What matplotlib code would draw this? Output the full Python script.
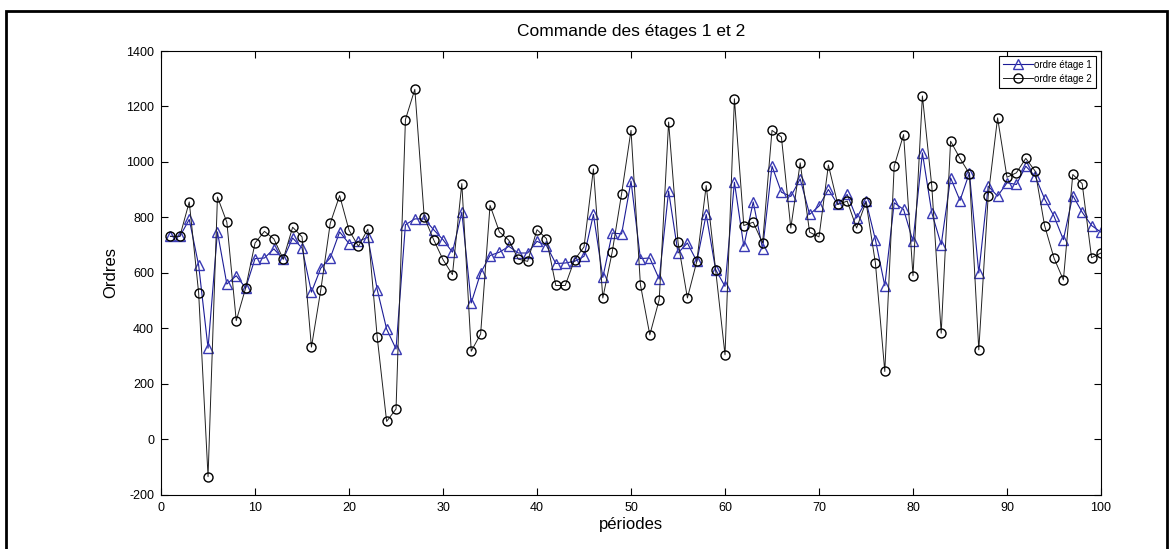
import matplotlib
matplotlib.use("Agg")
import matplotlib.pyplot as plt
from matplotlib.patches import Rectangle

plt.rcParams['font.family'] = ['Liberation Sans', 'DejaVu Sans']
plt.rcParams['axes.unicode_minus'] = False

# periods 1..100
periodes = list(range(1, 101))

ordre_etage1 = [
    732, 732, 793, 628, 329, 748, 560, 590, 546, 652,
    654, 687, 650, 726, 690, 531, 618, 654, 748, 706,
    714, 729, 540, 398, 326, 774, 795, 795, 756, 720,
    675, 819, 492, 600, 663, 675, 696, 672, 672, 714,
    699, 634, 636, 642, 660, 811, 584, 744, 741, 931,
    652, 654, 578, 895, 672, 708, 642, 811, 612, 552,
    927, 696, 856, 687, 985, 891, 876, 939, 811, 841,
    901, 847, 883, 798, 859, 720, 554, 853, 829, 714,
    1033, 817, 702, 943, 861, 961, 600, 913, 877, 925,
    919, 985, 949, 867, 805, 720, 879, 819, 771, 747,
]

ordre_etage2 = [
    732, 732, 856, 528, -134, 874, 783, 428, 546, 708,
    750, 723, 650, 765, 730, 333, 540, 779, 879, 754,
    696, 758, 368, 65, 110, 1153, 1262, 801, 720, 648,
    594, 922, 318, 380, 844, 748, 718, 650, 642, 756,
    724, 555, 555, 648, 694, 975, 510, 676, 886, 1114,
    558, 377, 504, 1144, 711, 510, 642, 915, 612, 305,
    1228, 771, 783, 708, 1114, 1090, 762, 997, 747, 730,
    989, 847, 859, 762, 856, 636, 245, 985, 1099, 590,
    1238, 913, 383, 1075, 1013, 958, 323, 877, 1159, 945,
    961, 1013, 967, 771, 654, 575, 955, 922, 655, 672,
]

fig = plt.figure(figsize=(11.73, 5.49), dpi=100)
ax = fig.add_axes([0.1373, 0.0984, 0.8013, 0.8087])

ax.plot(periodes, ordre_etage1, color='#1c1c96', marker='^', markersize=7,
        markerfacecolor='none', markeredgecolor='#3a3ab4', linewidth=0.8,
        label='ordre étage 1')
ax.plot(periodes, ordre_etage2, color='#202020', marker='o', markersize=6.5,
        markerfacecolor='none', markeredgecolor='black', linewidth=0.7,
        label='ordre étage 2')

ax.set_xlim(0, 100)
ax.set_ylim(-200, 1400)
ax.set_xticks(range(0, 101, 10))
ax.set_yticks(range(-200, 1401, 200))
ax.tick_params(direction='in', length=5, top=True, right=True, labelsize=9,
               pad=5)
for sp in ax.spines.values():
    sp.set_linewidth(0.8)

ax.set_title("Commande des étages 1 et 2", fontsize=12.5, pad=11)
ax.set_xlabel("périodes", fontsize=12, labelpad=2)
ax.set_ylabel("Ordres", fontsize=12, labelpad=6)

leg = ax.legend(loc='upper right', fontsize=7, fancybox=False, framealpha=1,
                edgecolor='black', borderaxespad=0.5, handlelength=3.0,
                handletextpad=0.2, borderpad=0.4, labelspacing=0.4)
leg.get_frame().set_linewidth(0.8)

# outer frame around the whole picture
fig.patches.append(Rectangle((6 / 1173, -0.02), 1161 / 1173, 1.02 - 11 / 549,
                             transform=fig.transFigure, fill=False,
                             edgecolor='black', linewidth=2))

fig.savefig("out.png", dpi=100)
